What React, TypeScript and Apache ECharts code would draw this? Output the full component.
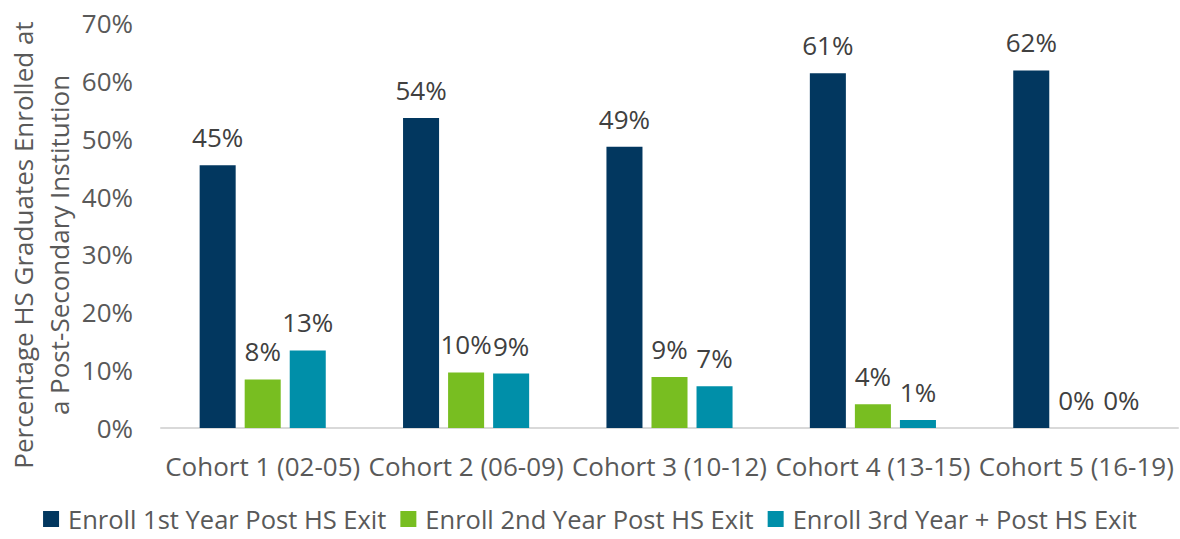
import React, { useEffect, useRef } from "react";
import * as echarts from "echarts";

const categories = [
  "Cohort 1 (02-05)",
  "Cohort 2 (06-09)",
  "Cohort 3 (10-12)",
  "Cohort 4 (13-15)",
  "Cohort 5 (16-19)",
];
const seriesNames = [
  "Enroll 1st Year Post HS Exit",
  "Enroll 2nd Year Post HS Exit",
  "Enroll 3rd Year + Post HS Exit",
];
const firstYear = [45.4, 53.6, 48.6, 61.3, 61.8];
const secondYear = [8.4, 9.6, 8.8, 4.1, 0];
const thirdYear = [13.4, 9.4, 7.2, 1.4, 0];
const colors = ["#02375f", "#78be21", "#008fa9"];
const yTicks = { min: 0, max: 70, interval: 10 };
const yTitle = "Percentage HS Graduates Enrolled at\na Post-Secondary Institution";

const FONT = "'Open Sans', sans-serif";

export default function App() {
  const ref = useRef<HTMLDivElement>(null);
  useEffect(() => {
    if (!ref.current) return;
    const chart = echarts.init(ref.current, undefined, { renderer: "svg" });
    const mk = (name: string, data: number[], color: string) => ({
      name,
      type: "bar",
      data,
      barGap: "25%",
      barCategoryGap: "38%",
      itemStyle: { color },
      label: {
        show: true,
        position: "top",
        distance: 15,
        formatter: (p: any) => Math.round(p.value) + "%",
        color: "#404040",
        fontSize: 26,
        fontFamily: FONT,
      },
    });
    chart.setOption({
      animation: false,
      textStyle: { fontFamily: FONT },
      grid: {
        left: 161,
        right: 2,
        top: 23,
        bottom: 111,
        containLabel: false,
        outerBoundsMode: "none",
      },
      legend: {
        bottom: 2,
        left: "center",
        icon: "rect",
        itemWidth: 16,
        itemHeight: 16,
        itemGap: 14,
        textStyle: {
          color: "#595959",
          fontSize: 25.5,
          fontFamily: FONT,
          padding: [0, 0, 0, 4],
        },
        data: seriesNames,
      },
      graphic: [
        {
          type: "text",
          x: 41,
          y: 245,
          rotation: Math.PI / 2,
          style: {
            text: yTitle,
            fill: "#595959",
            fontSize: 26,
            fontFamily: FONT,
            lineHeight: 36,
            align: "center",
            verticalAlign: "middle",
          },
        },
      ],
      xAxis: {
        type: "category",
        data: categories,
        axisLine: { lineStyle: { color: "#d9d9d9", width: 2 } },
        axisTick: { show: false },
        axisLabel: {
          color: "#595959",
          fontSize: 26,
          fontFamily: FONT,
          margin: 25,
          interval: 0,
        },
      },
      yAxis: {
        type: "value",
        min: yTicks.min,
        max: yTicks.max,
        interval: yTicks.interval,
        splitLine: { show: false },
        axisLine: { show: false },
        axisTick: { show: false },
        axisLabel: {
          color: "#595959",
          fontSize: 26,
          fontFamily: FONT,
          margin: 28,
          formatter: (v: number) => v + "%",
        },
      },
      series: [
        mk(seriesNames[0], firstYear, colors[0]),
        mk(seriesNames[1], secondYear, colors[1]),
        mk(seriesNames[2], thirdYear, colors[2]),
      ],
    });
    return () => chart.dispose();
  }, []);
  return (
    <div
      ref={ref}
      style={{ position: "absolute", left: 0, top: 0, width: 1180, height: 539 }}
    />
  );
}
